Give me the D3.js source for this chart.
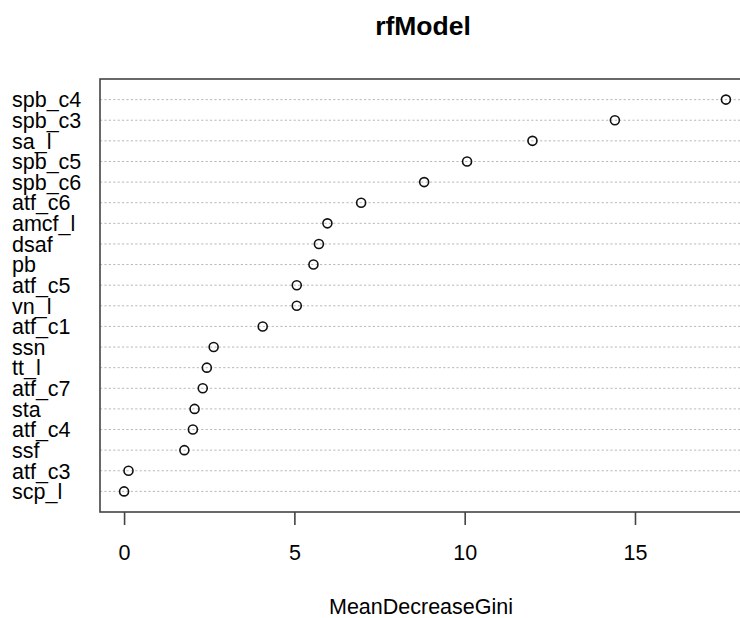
<!DOCTYPE html>
<html>
<head>
<meta charset="utf-8">
<script src="https://cdn.jsdelivr.net/npm/d3@7"></script>
<style>
  body { margin: 0; background: #fff; }
  text { font-family: "Liberation Sans", Arial, sans-serif; fill: #000; }
</style>
</head>
<body>
<div id="main"></div>
<script>
const ctx = {
    w: 740,
    h: 618,
    left: 100,
    right: 750,
    top: 79,
    bottom: 512,
    fontSize: 21.5,
};

// variables, top to bottom as drawn
const VARIABLES = ["spb_c4", "spb_c3", "sa_l", "spb_c5", "spb_c6", "atf_c6", "amcf_l", "dsaf", "pb", "atf_c5",
                   "vn_l", "atf_c1", "ssn", "tt_l", "atf_c7", "sta", "atf_c4", "ssf", "atf_c3", "scp_l"];
const GINI = [17.67, 14.41, 11.99, 10.07, 8.81, 6.96, 5.97, 5.72, 5.56, 5.07,
              5.07, 4.07, 2.63, 2.43, 2.31, 2.07, 2.02, 1.77, 0.13, 0.0];
const X_TICKS = [0, 5, 10, 15];
const TITLE = "rfModel";
const X_LABEL = "MeanDecreaseGini";

function createViz() {
    let svgEl = d3.select("#main").append("svg")
        .attr("width", ctx.w)
        .attr("height", ctx.h);

    // R dotchart: x range padded by 4%, rows at 1..n in [0, n+1]
    let ext = d3.extent(GINI);
    let pad = (ext[1] - ext[0]) * 0.04;
    let x = d3.scaleLinear()
        .domain([ext[0] - pad, ext[1] + pad])
        .range([ctx.left, ctx.right]);
    let n = VARIABLES.length;
    let y = d3.scaleLinear()
        .domain([0, n + 1])
        .range([ctx.bottom, ctx.top]);
    let rowY = (d, i) => y(n - i);

    // dotted guide lines
    svgEl.append("g").selectAll("line")
        .data(VARIABLES)
        .enter()
        .append("line")
        .attr("x1", ctx.left)
        .attr("x2", ctx.right)
        .attr("y1", rowY)
        .attr("y2", rowY)
        .attr("stroke", "#b8b8b8")
        .attr("stroke-width", 1)
        .attr("stroke-dasharray", "2.2,2.2");

    // variable names
    svgEl.append("g").selectAll("text")
        .data(VARIABLES)
        .enter()
        .append("text")
        .attr("x", 12)
        .attr("y", rowY)
        .attr("dy", "0.36em")
        .style("font-size", ctx.fontSize + "px")
        .text((d) => d);

    // points
    svgEl.append("g").selectAll("circle")
        .data(GINI)
        .enter()
        .append("circle")
        .attr("cx", (d) => x(d))
        .attr("cy", rowY)
        .attr("r", 4.5)
        .attr("fill", "none")
        .attr("stroke", "#111")
        .attr("stroke-width", 1.6);

    // box
    svgEl.append("rect")
        .attr("x", ctx.left)
        .attr("y", ctx.top)
        .attr("width", ctx.right - ctx.left)
        .attr("height", ctx.bottom - ctx.top)
        .attr("fill", "none")
        .attr("stroke", "#444")
        .attr("stroke-width", 1.6);

    // x axis
    let axisG = svgEl.append("g")
        .attr("transform", `translate(0,${ctx.bottom})`)
        .call(d3.axisBottom(x).tickValues(X_TICKS).tickSize(13).tickPadding(20).tickSizeOuter(0));
    axisG.select(".domain").remove();
    axisG.selectAll(".tick line").attr("stroke", "#444").attr("stroke-width", 1.6);
    axisG.selectAll(".tick text")
        .style("font-size", ctx.fontSize + "px")
        .style("font-family", "'Liberation Sans', Arial, sans-serif")
        .attr("fill", "#000");

    svgEl.append("text")
        .attr("x", (ctx.left + ctx.right) / 2 - 4)
        .attr("y", 614)
        .attr("text-anchor", "middle")
        .style("font-size", ctx.fontSize + "px")
        .text(X_LABEL);

    svgEl.append("text")
        .attr("x", (ctx.left + ctx.right) / 2 - 2)
        .attr("y", 35)
        .attr("text-anchor", "middle")
        .style("font-size", "26.5px")
        .style("font-weight", "bold")
        .text(TITLE);
};

createViz();
</script>
</body>
</html>
